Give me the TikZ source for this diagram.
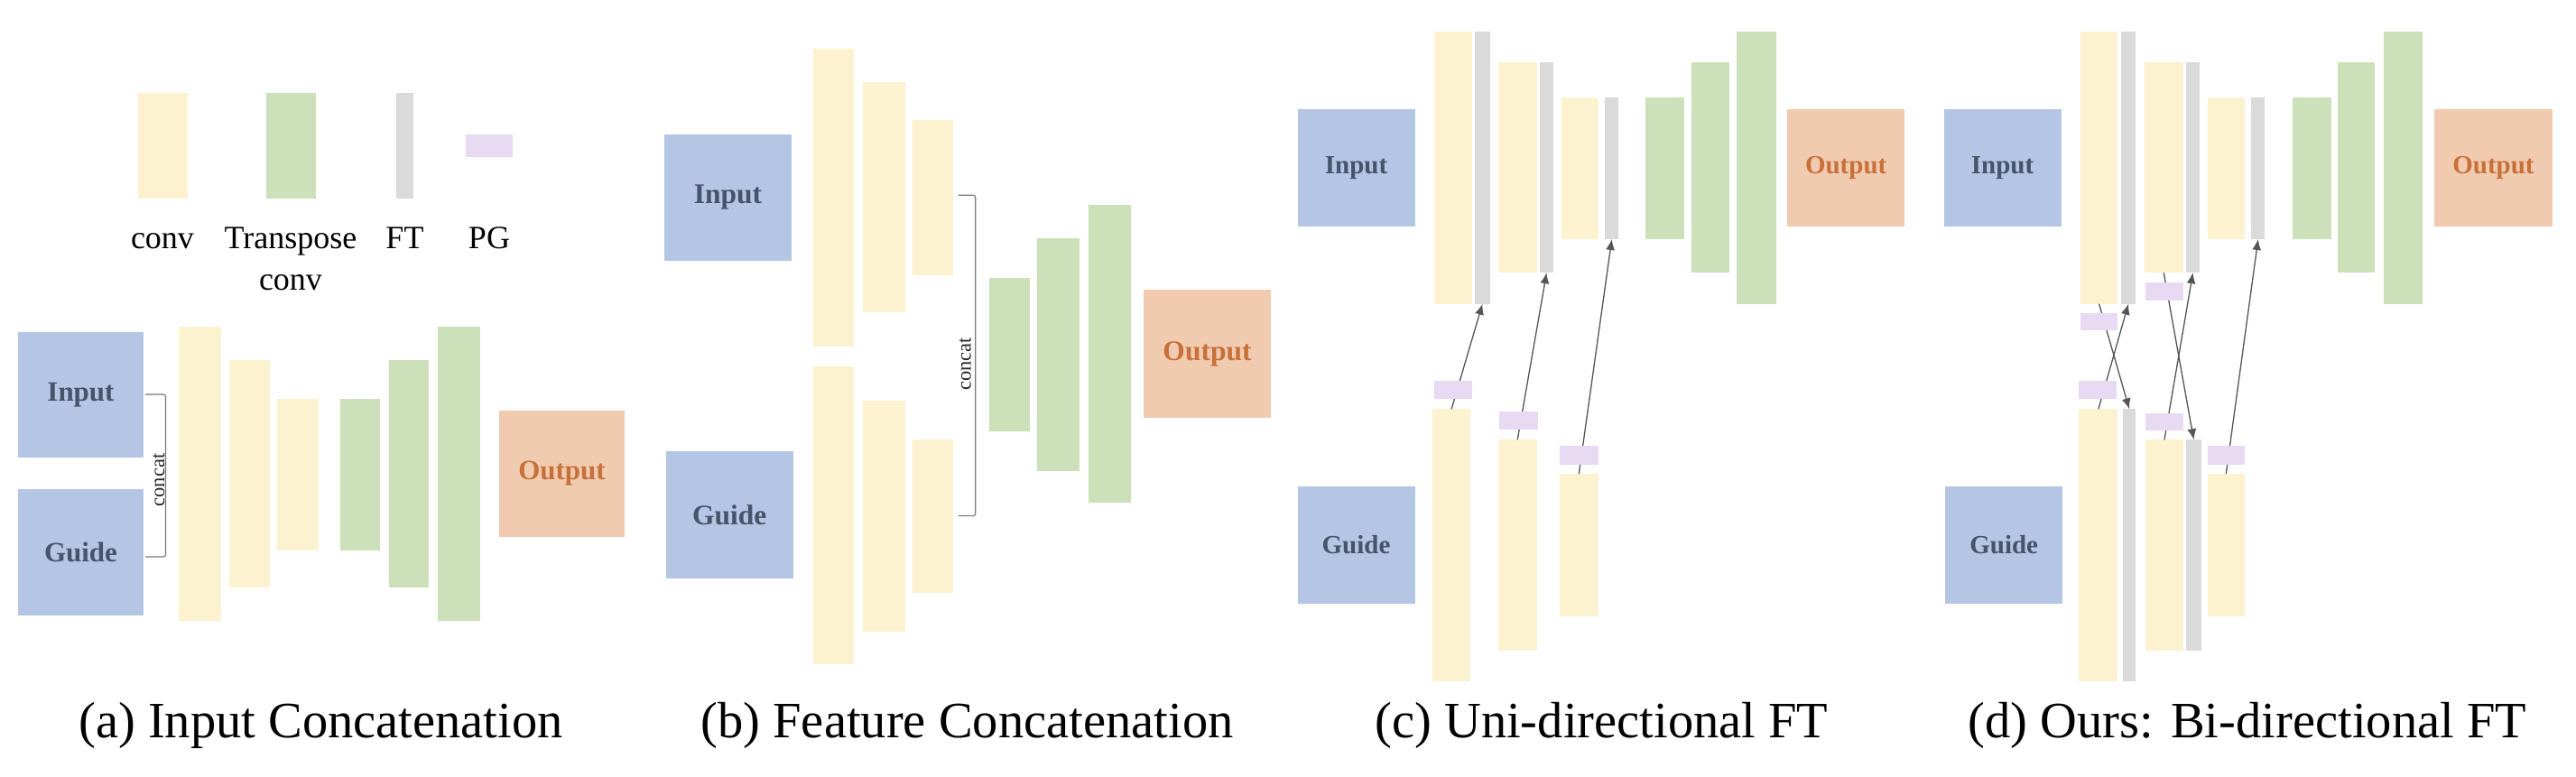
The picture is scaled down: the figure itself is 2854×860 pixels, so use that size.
\documentclass[tikz,border=0pt]{standalone}
\usepackage{fontspec}
\setmainfont{Liberation Serif}
\usetikzlibrary{arrows.meta}
\definecolor{convc}{HTML}{FDF2D0}
\definecolor{tconvc}{HTML}{CCE0BA}
\definecolor{ftc}{HTML}{DADADA}
\definecolor{pgc}{HTML}{E7DAF2}
\definecolor{inc}{HTML}{B5C6E4}
\definecolor{intext}{HTML}{44546A}
\definecolor{outc}{HTML}{F1CBAF}
\definecolor{outtext}{HTML}{C8703A}
\definecolor{arrc}{HTML}{555555}
\definecolor{brc}{HTML}{777777}
\tikzset{
  blkbase/.style={rectangle, inner sep=0pt, outer sep=0pt, draw=none},
  conv/.style={blkbase, fill=convc},
  tconv/.style={blkbase, fill=tconvc},
  ftb/.style={blkbase, fill=ftc},
  pgb/.style={blkbase, fill=pgc},
  inbox/.style={blkbase, fill=inc, text=intext, font=\bfseries\fontsize{#1}{#1}\selectfont},
  outbox/.style={blkbase, fill=outc, text=outtext, font=\bfseries\fontsize{#1}{#1}\selectfont},
  legendlbl/.style={inner sep=0pt, anchor=base, font=\fontsize{36}{36}\selectfont},
  caplbl/.style={inner sep=0pt, anchor=base, font=\fontsize{56.5}{56.5}\selectfont},
  concatlbl/.style={inner sep=0pt, rotate=90, font=\fontsize{22.5}{22.5}\selectfont, text=black!85},
  bracketline/.style={draw=brc, line width=1.2pt, rounded corners=2.5pt},
  ftarrow/.style={draw=arrc, line width=1.3pt, -{Latex[length=12pt,width=10pt]}},
}
\newcommand\blk[7]{\node[#2, minimum width={(#5)-(#3)}, minimum height={(#6)-(#4)}] (#1) at ({((#3)+(#5))/2},{((#4)+(#6))/2}) {#7};}
\begin{document}
\begin{tikzpicture}[x=1pt, y=-1pt]
\useasboundingbox (0,0) rectangle (2854,860);
\fill[white] (0,0) rectangle (2854,860);
% ---------------- legend ----------------
\blk{lconv}{conv}{153}{103}{208}{220}{}
\blk{ltconv}{tconv}{295}{103}{350}{220}{}
\blk{lft}{ftb}{439}{103}{458}{220}{}
\blk{lpg}{pgb}{516}{149}{568}{174}{}
\node[legendlbl] (tconvlbl) at (180,275) {conv};
\node[legendlbl] (ttlbl1) at (322,275) {Transpose};
\node[legendlbl] (ttlbl2) at (322,321) {conv};
\node[legendlbl] (tftlbl) at (448.5,275) {FT};
\node[legendlbl] (tpglbl) at (542,275) {PG};
% ---------------- (a) ----------------
\blk{aIn}{inbox=31}{20}{368}{159}{507}{Input}
\blk{aGu}{inbox=31}{20}{542}{159}{682}{Guide}
\blk{aC1}{conv}{198}{362}{244.5}{688}{}
\blk{aC2}{conv}{254}{399}{298.5}{651}{}
\blk{aC3}{conv}{307}{442}{353}{610}{}
\blk{aT1}{tconv}{376.5}{442}{421}{610}{}
\blk{aT2}{tconv}{430.5}{399}{475}{651}{}
\blk{aT3}{tconv}{485}{362}{531.5}{688}{}
\blk{aOut}{outbox=31}{553}{455}{692}{595}{Output}
\coordinate (aBr1) at (161,437);
\coordinate (aBr2) at (183.5,437);
\coordinate (aBr3) at (183.5,617);
\coordinate (aBr4) at (161,617);
\draw[bracketline] (aBr1) -- (aBr2) -- (aBr3) -- (aBr4);
\node[concatlbl] (aConcat) at (176,532) {concat};
\node[caplbl] (aCap) at (355.5,817) {(a) Input Concatenation};
% ---------------- (b) ----------------
\blk{bIn}{inbox=31.5}{736}{148.5}{877}{289}{Input}
\blk{bGu}{inbox=31.5}{737.5}{500}{879}{641}{Guide}
\blk{bTc1}{conv}{901}{53.7}{946}{383.8}{}
\blk{bTc2}{conv}{956}{91.4}{1003}{346}{}
\blk{bTc3}{conv}{1011}{132.5}{1056}{305}{}
\blk{bBc1}{conv}{901}{405.7}{946}{735.8}{}
\blk{bBc2}{conv}{956}{443.5}{1003}{700.3}{}
\blk{bBc3}{conv}{1011}{486.7}{1056}{657}{}
\blk{bT1}{tconv}{1095.5}{307.7}{1141}{478}{}
\blk{bT2}{tconv}{1148.5}{264.4}{1196}{521.8}{}
\blk{bT3}{tconv}{1206}{226.7}{1253}{556.8}{}
\blk{bOut}{outbox=31.5}{1267}{321.4}{1408}{462.6}{Output}
\coordinate (bBr1) at (1061.5,216.3);
\coordinate (bBr2) at (1080.7,216.3);
\coordinate (bBr3) at (1080.7,571.6);
\coordinate (bBr4) at (1061.5,571.6);
\draw[bracketline] (bBr1) -- (bBr2) -- (bBr3) -- (bBr4);
\node[concatlbl] (bConcat) at (1069.5,403.5) {concat};
\node[caplbl] (bCap) at (1071.5,817) {(b) Feature Concatenation};
% ---------------- (c) ----------------
\blk{cIn}{inbox=29}{1437.5}{121}{1567.5}{251}{Input}
\blk{cGu}{inbox=29}{1437.5}{539.3}{1567.5}{668.5}{Guide}
\blk{cTc1}{conv}{1589}{34.5}{1630.7}{336.7}{}
\blk{cTf1}{ftb}{1634.4}{34.5}{1650.5}{336.7}{}
\blk{cTc2}{conv}{1659.6}{69}{1702.8}{302.2}{}
\blk{cTf2}{ftb}{1706.4}{69}{1720.6}{302.2}{}
\blk{cTc3}{conv}{1729.8}{108.4}{1771.1}{265}{}
\blk{cTf3}{ftb}{1778.4}{108.4}{1793.1}{265}{}
\blk{cT1}{tconv}{1823}{108.4}{1865.6}{265}{}
\blk{cT2}{tconv}{1874}{69}{1915.6}{302.2}{}
\blk{cT3}{tconv}{1924.3}{34.5}{1968}{336.7}{}
\blk{cOut}{outbox=29}{1980.3}{121}{2110}{251}{Output}
\blk{cBc1}{conv}{1587.2}{453.3}{1629}{755}{}
\blk{cBc2}{conv}{1659.6}{487.3}{1702.8}{720.5}{}
\blk{cBc3}{conv}{1727.5}{525}{1771.1}{682.7}{}
\draw[ftarrow] (cBc1.north) -- (cTf1.south);
\draw[ftarrow] (cBc2.north) -- (cTf2.south);
\draw[ftarrow] (cBc3.north) -- (cTf3.south);
\blk{cPg1}{pgb}{1589}{422.1}{1630.7}{441.8}{}
\blk{cPg2}{pgb}{1661}{456}{1704}{475.8}{}
\blk{cPg3}{pgb}{1727.5}{494.4}{1771.1}{515.2}{}
\node[caplbl] (cCap) at (1774.4,817) {(c) Uni-directional FT};
% ---------------- (d) ----------------
\blk{dIn}{inbox=29}{2153.5}{121}{2283.6}{251}{Input}
\blk{dGu}{inbox=29}{2155}{539.3}{2285.4}{668.5}{Guide}
\blk{dTc1}{conv}{2304.8}{34.5}{2346.3}{336.7}{}
\blk{dTf1}{ftb}{2350}{34.5}{2366.2}{336.7}{}
\blk{dTc2}{conv}{2375.8}{69}{2418.7}{302.2}{}
\blk{dTf2}{ftb}{2422.4}{69}{2436.7}{302.2}{}
\blk{dTc3}{conv}{2445.5}{108.4}{2487}{265}{}
\blk{dTf3}{ftb}{2494.4}{108.4}{2509.2}{265}{}
\blk{dT1}{tconv}{2539.6}{108.4}{2582.5}{265}{}
\blk{dT2}{tconv}{2589.9}{69}{2631.4}{302.2}{}
\blk{dT3}{tconv}{2640.6}{34.5}{2684}{336.7}{}
\blk{dOut}{outbox=29}{2697}{121}{2828}{251}{Output}
\blk{dBc1}{conv}{2303.4}{453.3}{2346.3}{755}{}
\blk{dBf1}{ftb}{2351.9}{453.3}{2366.2}{755}{}
\blk{dBc2}{conv}{2377.2}{487.3}{2418.7}{720.5}{}
\blk{dBf2}{ftb}{2422.4}{487.3}{2438.6}{720.5}{}
\blk{dBc3}{conv}{2445.5}{525}{2487}{682.7}{}
\draw[ftarrow] (dTc1.south) -- (dBf1.north);
\draw[ftarrow] (dBc1.north) -- (dTf1.south);
\draw[ftarrow] (dTc2.south) -- (dBf2.north);
\draw[ftarrow] (dBc2.north) -- (dTf2.south);
\draw[ftarrow] (dBc3.north) -- (dTf3.south);
\blk{dPgT1}{pgb}{2304.8}{346.6}{2346.3}{365.7}{}
\blk{dPgB1}{pgb}{2303.4}{422.1}{2345}{441.8}{}
\blk{dPgT2}{pgb}{2377.2}{312.6}{2418.7}{333.4}{}
\blk{dPgB2}{pgb}{2377.2}{458.3}{2418.7}{477.4}{}
\blk{dPgB3}{pgb}{2445.5}{494.4}{2487}{515.2}{}
\node[caplbl] (dCap) at (2490,817) {(d) Ours: Bi-directional FT};
\end{tikzpicture}
\end{document}
